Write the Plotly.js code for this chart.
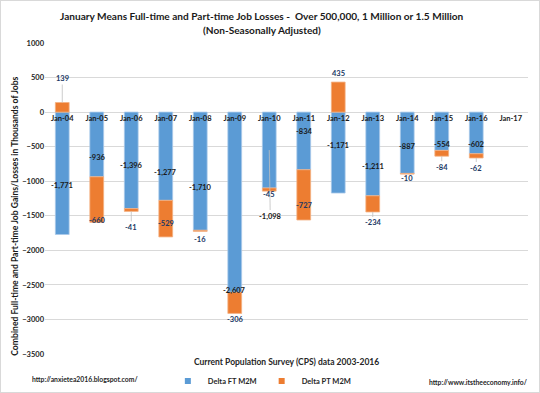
<!DOCTYPE html>
<html><head><meta charset="utf-8">
<script src="https://cdn.plot.ly/plotly-3.0.1.min.js"></script>
<style>body{margin:0;}#c{width:538px;height:391px;border:1px solid #d9d9d9;}</style>
</head><body><div id="c"></div>
<script>
const categories = ['Jan-04','Jan-05','Jan-06','Jan-07','Jan-08','Jan-09','Jan-10','Jan-11','Jan-12','Jan-13','Jan-14','Jan-15','Jan-16','Jan-17'];
const ftValues = [-1771,-936,-1396,-1277,-1710,-2607,-1098,-834,-1171,-1211,-887,-554,-602,null];
const ptValues = [139,-660,-41,-529,-16,-306,-45,-727,435,-234,-10,-84,-62,null];
const yTicks = [1000,500,0,-500,-1000,-1500,-2000,-2500,-3000,-3500];
const seriesNames = ['Delta FT M2M','Delta PT M2M'];
const titleLines = ['January Means Full-time and Part-time Job Losses -  Over 500,000, 1 Million or 1.5 Million','(Non-Seasonally Adjusted)'];

// label placement tweaks (pixels, positive = down), relative to segment centre (FT) / bar end (PT)
const ftShift = [12,13,5,16,16,null,66,-9,-7,13,4,13,12];
const ptShift = [-24,-2,16,-13,8,6,3,-14,-9,11,4,11,10];
const ptLeader = [true,false,true,false,false,false,false,false,false,true,false,true,true];

const FAM = 'Lato, "Open Sans", sans-serif';
const BLUE = '#5b9bd5', ORANGE = '#ed7d31';
const fmt = v => (v<0?'-':'') + Math.abs(v).toLocaleString('en-US');
const ann = [];
const labFont = {family:FAM, size:7.5, color:'#1a1a1a', weight:'bold'};
const ptFont = {family:FAM, size:7.5, color:'#203864', weight:'bold'};
categories.forEach((c,i)=>{
  const ft = ftValues[i], pt = ptValues[i];
  if (ft===null) return;
  if (i===5) {
    ann.push({x:c, y:ft, text:fmt(ft), showarrow:false, font:labFont, yshift:2});
  } else if (i===6) {
    ann.push({x:c, y:ft/2, text:fmt(ft), showarrow:true, arrowhead:0, arrowwidth:0.8, arrowcolor:'#bfbfbf', ax:1, ay:ftShift[i], standoff:0, font:labFont});
  } else {
    ann.push({x:c, y:ft/2, text:fmt(ft), showarrow:false, font:labFont, yshift:-ftShift[i]});
  }
  const end = pt>0 ? pt : ft+pt;
  if (ptLeader[i]) {
    ann.push({x:c, y:end, text:fmt(pt), showarrow:true, arrowhead:0, arrowwidth:0.8, arrowcolor:'#bfbfbf', ax:0, ay:ptShift[i], font:ptFont, standoff:0});
  } else {
    ann.push({x:c, y:end, text:fmt(pt), showarrow:false, font:ptFont, yshift:-ptShift[i]});
  }
});

const baseFont = {family:FAM, color:'#262626', weight:'bold'};
ann.push({xref:'paper', yref:'paper', x:0.449, y:1.087, yanchor:'middle', showarrow:false,
  text:titleLines[0], font:{family:FAM, size:10.1, color:'#1a1a1a', weight:'bold'}});
ann.push({xref:'paper', yref:'paper', x:0.449, y:1.042, yanchor:'middle', showarrow:false,
  text:titleLines[1], font:{family:FAM, size:10.1, color:'#1a1a1a', weight:'bold'}});
ann.push({xref:'paper', yref:'paper', x:-0.077, y:0.444, textangle:-90, showarrow:false,
  text:'Combined Full-time and Part-time Job Gains/Losses in Thousands of Jobs', font:Object.assign({}, baseFont, {size:8.6, color:'#1a1a1a'})});
ann.push({xref:'paper', yref:'paper', x:0.5, y:-0.003, yanchor:'top', showarrow:false,
  text:'Current Population Survey (CPS) data 2003-2016', font:Object.assign({}, baseFont, {size:8.5})});
ann.push({xref:'paper', yref:'paper', x:-0.031, y:-0.08, xanchor:'left', yanchor:'middle', showarrow:false,
  text:'http://anxietea2016.blogspot.com/', font:Object.assign({}, baseFont, {size:6.8})});
ann.push({xref:'paper', yref:'paper', x:1.002, y:-0.09, xanchor:'right', yanchor:'middle', showarrow:false,
  text:'http://www.itstheeconomy.info/', font:Object.assign({}, baseFont, {size:6.8})});

const traces = [
  {type:'bar', name:seriesNames[0], x:categories, y:ftValues, showlegend:false, legendgroup:'ft',
   marker:{color:BLUE, line:{color:'#a9c9ea', width:0.8}}, hoverinfo:'none'},
  {type:'bar', name:seriesNames[1], x:categories, y:ptValues, showlegend:false, legendgroup:'pt',
   marker:{color:ORANGE, line:{color:'#f4b183', width:0.8}}, hoverinfo:'none'},
  // legend keys (small squares as in the original)
  {type:'scatter', mode:'markers', name:seriesNames[0], x:[null], y:[null], legendgroup:'ft',
   marker:{symbol:'square', size:6, color:BLUE}, hoverinfo:'none'},
  {type:'scatter', mode:'markers', name:seriesNames[1], x:[null], y:[null], legendgroup:'pt',
   marker:{symbol:'square', size:6, color:ORANGE}, hoverinfo:'none'}
];

const layout = {
  width:538, height:391,
  margin:{l:44, r:11, t:42, b:38, autoexpand:false},
  paper_bgcolor:'#ffffff', plot_bgcolor:'#ffffff',
  barmode:'relative', bargap:0.6,
  xaxis:{type:'category', anchor:'free', position:0.7778, showline:false, showgrid:false, ticks:'', ticklen:0,
    tickfont:{family:FAM, size:7.5, color:'#1a1a1a', weight:'bold'}, range:[-0.5,13.5], fixedrange:true},
  yaxis:{range:[-3500,1000], tickvals:yTicks, showgrid:true, gridcolor:'#d9d9d9', gridwidth:1, zeroline:false, showline:false,
    tickfont:{family:FAM, size:7.5, color:'#262626', weight:'bold'}, automargin:false},
  legend:{orientation:'h', x:0.45, xanchor:'center', y:-0.087, yanchor:'middle',
    font:{family:FAM, size:7.5, color:'#262626', weight:'bold'}, itemwidth:30, traceorder:'normal'},
  annotations:ann,
  showlegend:true
};
Plotly.newPlot('c', traces, layout, {staticPlot:true});
</script></body></html>
